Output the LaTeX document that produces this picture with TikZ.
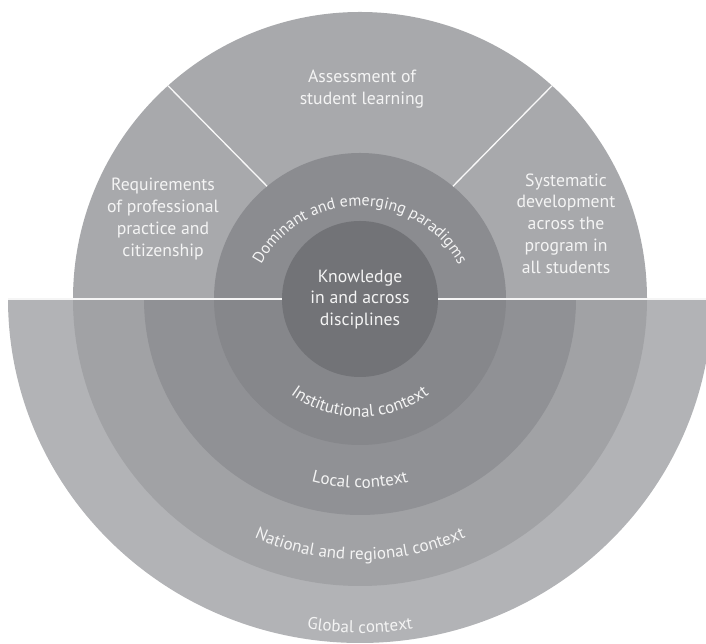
\documentclass[tikz,border=0pt]{standalone}
\usepackage{fontspec}
\setmainfont{PT Sans}
\usetikzlibrary{decorations.text}
\definecolor{domec}{HTML}{A8A9AC}
\definecolor{globalc}{HTML}{B2B3B6}
\definecolor{natc}{HTML}{A1A2A5}
\definecolor{localc}{HTML}{909195}
\definecolor{instc}{HTML}{86878B}
\definecolor{paradc}{HTML}{8B8C90}
\definecolor{knowc}{HTML}{727377}
\definecolor{txtc}{HTML}{F4F4F4}
\newcommand\curvefont{\fontsize{17}{20}\selectfont}
\newcommand\paradfont{\fontsize{16}{19}\selectfont}
\tikzset{
  lab/.style={align=center, text=txtc, font=\fontsize{17.7}{21.7}\selectfont, inner sep=0pt},
  sepline/.style={draw=white!92!gray, line width=1.6pt},
  divline/.style={draw=white!95!gray, line width=1.3pt},
  curved/.style={decorate, decoration={text along path, text align=center, text color=txtc, text={|\curvefont|#1}}},
  curvedp/.style={decorate, decoration={text along path, text align=center, text color=txtc, text={|\paradfont|#1}}}
}
\begin{document}
\begin{tikzpicture}[x=1pt,y=1pt]
\useasboundingbox (0,0) rectangle (706,644);
\coordinate (C) at (360,345);
% lower half bands
\fill[globalc] (8,345) arc[start angle=180,end angle=360,x radius=352,y radius=344] -- cycle;
\fill[natc] (73,345) arc[start angle=180,end angle=360,radius=287] -- cycle;
\fill[localc] (144,345) arc[start angle=180,end angle=360,radius=216] -- cycle;
\fill[instc] (214,345) arc[start angle=180,end angle=360,radius=146] -- cycle;
% upper half
\fill[domec] (73,345) arc[start angle=180,end angle=0,radius=287] -- cycle;
\fill[paradc] (214,345) arc[start angle=180,end angle=0,radius=146] -- cycle;
% centre
\fill[knowc] (C) circle[radius=78];
% separator lines
\coordinate (hl) at (8,345);
\coordinate (hr) at (706,345);
\coordinate (kl) at ([shift={(C)}]180:78);
\coordinate (kr) at ([shift={(C)}]0:78);
\draw[sepline] (hl) -- (kl);
\draw[sepline] (kr) -- (hr);
\coordinate (d1o) at ([shift={(C)}]132:287);
\coordinate (d1i) at ([shift={(C)}]129.5:146);
\coordinate (d2o) at ([shift={(C)}]48:287);
\coordinate (d2i) at ([shift={(C)}]50.5:146);
\draw[divline] (d1o) -- (d1i);
\draw[divline] (d2o) -- (d2i);
% straight labels
\node[lab] (assess) at (362,555) {Assessment of\\student learning};
\node[lab] (req) at (163,425) {Requirements\\of professional\\practice and\\citizenship};
\node[lab] (sys) at (566,420.5) {Systematic\\development\\across the\\program in\\all students};
\node[lab] (know) at (360,344.5) {Knowledge\\in and across\\disciplines};
% curved labels
\path[shift={(360,326)}, curvedp={Dominant and emerging paradigms}] (178:112) arc[start angle=178,end angle=2,radius=112];
\path[shift={(C)}, curved={Institutional context}] (200:118) arc[start angle=200,end angle=340,radius=118];
\path[shift={(C)}, curved={Local context}] (220:189) arc[start angle=220,end angle=320,radius=189];
\path[shift={(C)}, curved={National and regional context}] (225:261) arc[start angle=225,end angle=315,radius=261];
\path[shift={(C)}, curved={Global context}] (240:334) arc[start angle=240,end angle=300,radius=334];
\end{tikzpicture}
\end{document}
